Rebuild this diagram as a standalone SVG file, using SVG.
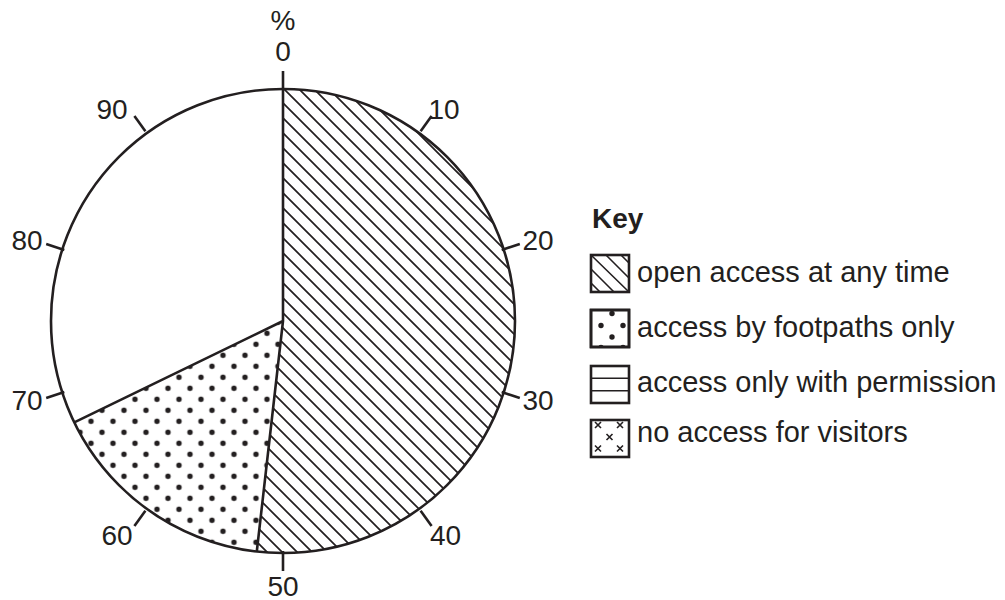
<svg xmlns="http://www.w3.org/2000/svg" width="1005" height="600" viewBox="0 0 1005 600">
<style>
.ol{fill:none;stroke:#231f20;stroke-width:2.6;stroke-linejoin:round}
.tk{stroke:#231f20;stroke-width:2.6;fill:none}
.num{font-family:"Liberation Sans",Arial,sans-serif;font-size:28px;fill:#231f20;text-anchor:middle}
.kt{font-family:"Liberation Sans",Arial,sans-serif;font-size:29px;fill:#231f20}
.kh{font-family:"Liberation Sans",Arial,sans-serif;font-size:28px;font-weight:bold;fill:#231f20}
.kb{fill:#fff;stroke:#231f20;stroke-width:2.6}
.thin{stroke:#231f20;stroke-width:1.6;fill:none}
</style>
<defs>
<pattern id="hatch" patternUnits="userSpaceOnUse" width="15" height="15">
<path d="M-1,-1 L16,16 M-1,14 L1,16 M14,-1 L16,1" stroke="#231f20" stroke-width="1.7" fill="none"/>
</pattern>
<pattern id="dots" patternUnits="userSpaceOnUse" x="19.5" y="19.8" width="22" height="22">
<circle cx="5.5" cy="5.5" r="2.7" fill="#231f20"/>
<circle cx="16.5" cy="16.5" r="2.7" fill="#231f20"/>
</pattern>
<clipPath id="kc2"><rect x="591" y="310" width="38" height="37"/></clipPath>
<clipPath id="kc4"><rect x="591" y="420" width="38" height="37"/></clipPath>
</defs>
<rect width="1005" height="600" fill="#fff"/>
<g id="pie">
<g id="slice-open"><path d="M283,321 L283,89 A232,232 0 1 1 256.8,551.5 Z" fill="url(#hatch)"/></g>
<g id="slice-footpaths"><path d="M283,321 L256.8,551.5 A232,232 0 0 1 74.3,422.4 Z" fill="url(#dots)"/></g>
<g id="slice-white"><path d="M283,321 L74.3,422.4 A232,232 0 0 1 283,89 Z" fill="#fff"/></g>
<circle cx="283" cy="321" r="232" class="ol"/>
<path d="M283,89 L283,321 L256.8,551.5 M283,321 L74.3,422.4" class="ol"/>
</g>
<g id="connectors">
<g id="ticks">
<line x1="283" y1="89" x2="283" y2="71" class="tk"/>
<line x1="420.6" y1="131.3" x2="431.6" y2="116.1" class="tk"/>
<line x1="501.7" y1="249.9" x2="519.8" y2="244.0" class="tk"/>
<line x1="501.7" y1="392.1" x2="519.8" y2="398.0" class="tk"/>
<line x1="420.6" y1="510.7" x2="431.6" y2="525.9" class="tk"/>
<line x1="283" y1="551" x2="283" y2="571" class="tk"/>
<line x1="145.4" y1="510.7" x2="134.4" y2="525.9" class="tk"/>
<line x1="64.3" y1="392.1" x2="46.2" y2="398.0" class="tk"/>
<line x1="64.3" y1="249.9" x2="46.2" y2="244.0" class="tk"/>
<line x1="145.4" y1="131.3" x2="134.4" y2="116.1" class="tk"/>
</g>
</g>
<g id="labels">
<text x="283" y="30" class="num">%</text>
<text x="283" y="61" class="num">0</text>
<text x="444" y="119" class="num">10</text>
<text x="538" y="250" class="num">20</text>
<text x="538" y="410" class="num">30</text>
<text x="445.5" y="545" class="num">40</text>
<text x="283" y="596" class="num">50</text>
<text x="117" y="545" class="num">60</text>
<text x="27" y="410" class="num">70</text>
<text x="27" y="250" class="num">80</text>
<text x="112" y="119" class="num">90</text>
</g>
<g id="key">
<text x="592" y="228" class="kh">Key</text>
<g id="key-open">
<rect x="591" y="255" width="38" height="37" class="kb"/>
<path d="M591,255 L629,292 M606,255 L629,278 M621,255 L629,263 M591,269 L614,292 M591,283 L600,292" class="thin"/>
<text x="637" y="282" class="kt">open access at any time</text>
</g>
<g id="key-footpaths">
<rect x="591" y="310" width="38" height="37" class="kb"/>
<g clip-path="url(#kc2)" fill="#231f20">
<circle cx="612" cy="313.5" r="2.7"/>
<circle cx="601" cy="325.5" r="2.7"/>
<circle cx="623" cy="325.5" r="2.7"/>
<circle cx="612" cy="337" r="2.7"/>
<circle cx="601" cy="347.5" r="2.7"/>
<circle cx="623" cy="347.5" r="2.7"/>
</g>
<rect x="591" y="310" width="38" height="37" fill="none" stroke="#231f20" stroke-width="2.6"/>
<text x="637" y="337" class="kt">access by footpaths only</text>
</g>
<g id="key-permission">
<rect x="591" y="366" width="38" height="37" class="kb"/>
<path d="M591,378.3 L629,378.3 M591,390.7 L629,390.7" class="thin" stroke-width="2"/>
<text x="637" y="392" class="kt">access only with permission</text>
</g>
<g id="key-novisitors">
<rect x="591" y="420" width="38" height="37" class="kb"/>
<g clip-path="url(#kc4)">
<path d="M595,422 L601,428 M601,422 L595,428 M617,422 L623,428 M623,422 L617,428 M606.5,434 L612.5,440 M612.5,434 L606.5,440 M595,445.5 L601,451.5 M601,445.5 L595,451.5 M617,445.5 L623,451.5 M623,445.5 L617,451.5" class="thin" stroke-width="1.4"/>
</g>
<text x="637" y="442" class="kt">no access for visitors</text>
</g>
</g>
</svg>
